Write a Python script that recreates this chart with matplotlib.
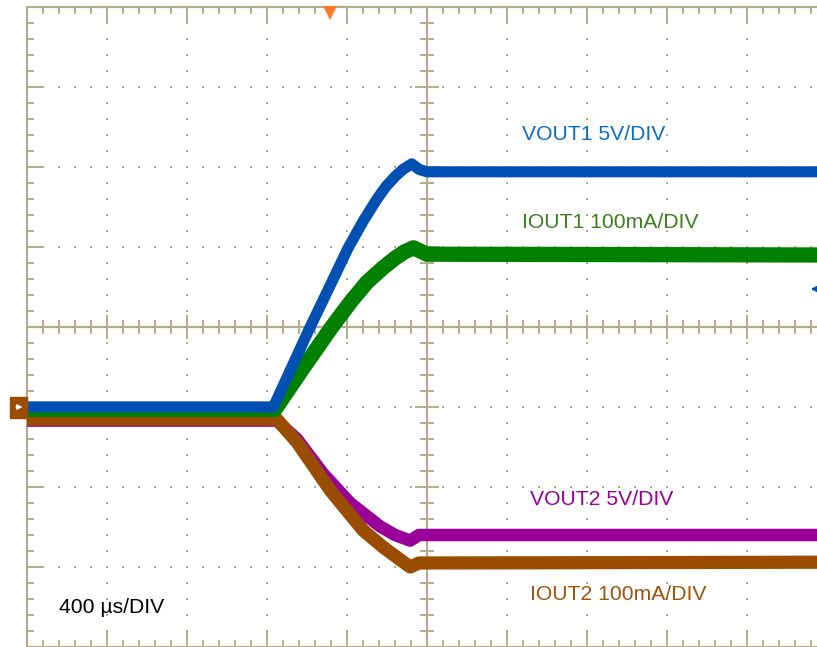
#!/usr/bin/env python3
"""
plot.py -- Redraw a 4-channel scope capture (VOUT1/IOUT1/VOUT2/IOUT2 start-up).

All coordinates are in scope divisions: x = 0..10 (time), y = -4..4.
"""

import matplotlib
matplotlib.use("Agg")
import matplotlib.pyplot as plt
import numpy as np
from matplotlib.collections import LineCollection
from matplotlib.patches import Rectangle

# ---------------------------------------------------------------------------
# Trace data (divisions)
# ---------------------------------------------------------------------------
vout1_t = [0.0, 3.08, 3.54, 3.79, 4.01, 4.20, 4.375, 4.49, 4.60, 4.70,
           4.81, 4.90, 5.00, 10.0]
vout1_v = [-1.00, -1.00, 0.00, 0.52, 0.98, 1.32, 1.60, 1.76, 1.88, 1.97,
           2.04, 1.97, 1.94, 1.94]

iout1_t = [0.0, 3.10, 3.46, 3.81, 4.05, 4.25, 4.45, 4.60, 4.72, 4.83,
           5.00, 10.0]
iout1_v = [-1.03, -1.03, -0.50, 0.00, 0.32, 0.56, 0.74, 0.86, 0.94, 0.99,
           0.91, 0.90]

vout2_t = [0.0, 3.12, 3.375, 3.70, 4.04, 4.41, 4.60, 4.79, 4.90, 10.0]
vout2_v = [-1.17, -1.17, -1.40, -1.83, -2.20, -2.49, -2.60, -2.67, -2.60,
           -2.60]

iout2_t = [0.0, 3.12, 3.375, 3.79, 4.20, 4.45, 4.625, 4.79, 4.90, 10.0]
iout2_v = [-1.15, -1.15, -1.44, -2.04, -2.54, -2.75, -2.88, -3.00, -2.95,
           -2.94]

labels = ["VOUT1 5V/DIV", "IOUT1 100mA/DIV", "VOUT2 5V/DIV", "IOUT2 100mA/DIV"]
timebase = "400 \u00b5s/DIV"

# ---------------------------------------------------------------------------
# Style
# ---------------------------------------------------------------------------
GRID = "#b3ad8d"
C_VOUT1 = "#0050b4"
C_IOUT1 = "#008000"
C_VOUT2 = "#990099"
C_IOUT2 = "#9a4c00"
T_VOUT1 = "#0a6fc2"
T_IOUT1 = "#3c7f1c"
T_VOUT2 = "#990099"
T_IOUT2 = "#a0520c"

plt.rcParams["font.family"] = ["Liberation Sans", "DejaVu Sans"]


def draw_graticule(ax):
    """Scope grid: solid border + centre cross with ticks, dotted majors."""
    # dotted major lines
    minor = np.arange(0, 10.001, 0.2)
    minor_y = np.arange(-4, 4.001, 0.2)
    for gx in range(1, 10):
        if gx == 5:
            continue
        ax.plot(np.full_like(minor_y, gx), minor_y, ls="none", marker="s",
                ms=1.6, mew=0, color=GRID, zorder=1)
    for gy in range(-3, 4):
        if gy == 0:
            continue
        ax.plot(minor, np.full_like(minor, gy), ls="none", marker="s",
                ms=1.6, mew=0, color=GRID, zorder=1)

    # solid lines: border and centre cross
    ax.plot([0, 10, 10, 0, 0], [-4, -4, 4, 4, -4], color=GRID, lw=1.6,
            zorder=1, clip_on=False)
    ax.axvline(5, color=GRID, lw=1.6, zorder=1)
    ax.axhline(0, color=GRID, lw=1.6, zorder=1)

    segs = []
    for i, x in enumerate(minor):
        big = i % 5 == 0
        # top / bottom border ticks
        ln = 0.21 if big else 0.09
        segs.append([(x, 4), (x, 4 - ln)])
        segs.append([(x, -4), (x, -4 + ln)])
        # centre horizontal axis ticks
        c = 0.15 if big else 0.09
        segs.append([(x, -c), (x, c)])
    for i, y in enumerate(minor_y):
        big = i % 5 == 0
        ln = 0.21 if big else 0.09
        segs.append([(0, y), (ln, y)])
        c = 0.15 if big else 0.09
        segs.append([(5 - c, y), (5 + c, y)])
    ax.add_collection(LineCollection(segs, colors=GRID, linewidths=1.4,
                                     zorder=1))


def draw_markers(ax):
    """Trigger position, ground reference and level arrows."""
    # trigger position (orange triangle on top edge)
    ax.plot([3.79], [3.93], marker="v", ms=10, color="#ff7a2a", mew=0,
            clip_on=False, zorder=6)
    # ground reference box at left
    ax.add_patch(Rectangle((-0.21, -1.14), 0.21, 0.265, color=C_IOUT2,
                           clip_on=False, zorder=6))
    ax.annotate("", xy=(-0.02, -1.0), xytext=(-0.17, -1.0),
                arrowprops=dict(arrowstyle="-|>", color="white", lw=1.2,
                                mutation_scale=7),
                annotation_clip=False, zorder=7)
    # trigger level arrow at right
    ax.annotate("", xy=(9.76, 0.475), xytext=(9.95, 0.475),
                arrowprops=dict(arrowstyle="-|>", color=C_VOUT1, lw=1.5,
                                mutation_scale=9),
                annotation_clip=False, zorder=7)


def main():
    fig = plt.figure(figsize=(8.17, 6.47), dpi=100)
    ax = fig.add_axes([27 / 817, 0, 800 / 817, 640 / 647])
    ax.set_xlim(0, 10)
    ax.set_ylim(-4, 4)
    ax.axis("off")

    draw_graticule(ax)

    # traces (thick lines stand in for the noise band)
    ax.plot(vout2_t, vout2_v, color=C_VOUT2, lw=9.0, zorder=2)
    ax.plot(iout2_t, iout2_v, color=C_IOUT2, lw=9.5, zorder=3)
    ax.plot(iout1_t, iout1_v, color=C_IOUT1, lw=11.0, zorder=4)
    ax.plot(vout1_t, vout1_v, color=C_VOUT1, lw=8.0, zorder=5)

    # channel labels
    fs = 15.2
    ax.text(6.19, 2.40, labels[0], color=T_VOUT1, fontsize=fs, va="center")
    ax.text(6.19, 1.30, labels[1], color=T_IOUT1, fontsize=fs, va="center")
    ax.text(6.29, -2.16, labels[2], color=T_VOUT2, fontsize=fs, va="center")
    ax.text(6.29, -3.35, labels[3], color=T_IOUT2, fontsize=fs, va="center")
    ax.text(0.40, -3.51, timebase, color="black", fontsize=fs, va="center")

    draw_markers(ax)

    fig.savefig("out.png", dpi=100)
    plt.close(fig)


if __name__ == "__main__":
    main()
